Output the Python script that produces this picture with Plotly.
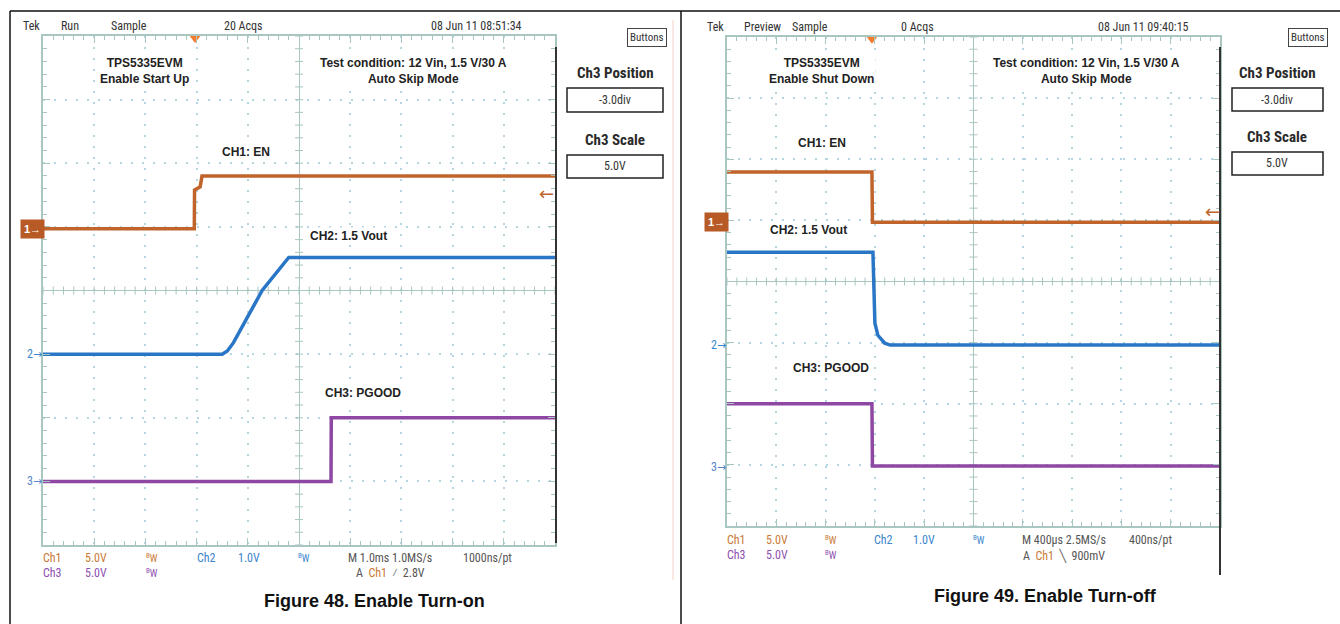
import numpy as np
import plotly.graph_objects as go

# ---------------- data ----------------
# Figure 48: Enable turn-on, time in ms (1.0 ms/div, trigger-centred screen)
on_time_ch1 = [-5.0, -2.045, -2.04, -1.93, -1.895, 5.0]
on_en_v = [0.0, 0.0, 3.05, 3.3, 4.15, 4.15]
on_time_ch2 = [-5.0, -1.50, -1.40, -1.28, -0.72, -0.26, -0.20, 5.0]
on_vout_v = [0.0, 0.0, 0.05, 0.18, 1.0, 1.47, 1.52, 1.52]
on_time_ch3 = [-5.0, 0.625, 0.63, 5.0]
on_pgood_v = [0.0, 0.0, 5.0, 5.0]

# Figure 49: Enable turn-off, time in us (400 us/div)
off_time_ch1 = [-2000, -824, -820, 2000]
off_en_v = [4.1, 4.1, 0.0, 0.0]
off_time_ch2 = [-2000, -816, -800, -776, -720, -676, 2000]
off_vout_v = [1.52, 1.52, 0.36, 0.16, 0.03, 0.0, 0.0]
off_time_ch3 = [-2000, -824, -820, 2000]
off_pgood_v = [5.1, 5.1, 0.0, 0.0]

# ---------------- style ----------------
W, H = 1340, 624
def px(x): return x / W
def py(y): return 1 - y / H

C1, C2, C3 = "#c0642c", "#2a76c6", "#8e48a4"
GRID = "#b4d6e2"
BORDER = "#a9c6c0"
NARROW = "Liberation Sans Narrow, Arial Narrow, Roboto Condensed, DejaVu Sans Condensed, sans-serif"
BOLD = "Liberation Sans, Arial, sans-serif"

panels = [
    dict(xa="x", ya="y", xk="xaxis", yk="yaxis", x0=43, x1=555, y0=36, y1=545,
         tdiv=1.0, pos=(0.97, -1.0, -3.0), trig=-2.03,
         series=[(on_time_ch1, on_en_v, C1), (on_time_ch2, on_vout_v, C2), (on_time_ch3, on_pgood_v, C3)]),
    dict(xa="x2", ya="y2", xk="xaxis2", yk="yaxis2", x0=727, x1=1220, y0=37, y1=526,
         tdiv=400.0, pos=(0.97, -1.04, -3.02), trig=-2.06,
         series=[(off_time_ch1, off_en_v, C1), (off_time_ch2, off_vout_v, C2), (off_time_ch3, off_pgood_v, C3)]),
]
vdiv = (5.0, 1.0, 5.0)

fig = go.Figure()
layout_axes = {}
for p in panels:
    pxd = (p["x1"] - p["x0"]) / 10.0
    pyd = (p["y1"] - p["y0"]) / 8.0
    common = dict(showticklabels=False, showgrid=True, gridcolor=GRID, griddash="2px,9px",
                  gridwidth=1.5, dtick=1, tick0=0, zeroline=True, zerolinecolor=BORDER,
                  zerolinewidth=1.2, showline=True, linecolor=BORDER, linewidth=1.5,
                  mirror="ticks", ticks="inside", ticklen=7, tickcolor=BORDER, tickwidth=1.2,
                  minor=dict(ticks="inside", dtick=0.2, ticklen=4, tickcolor=BORDER, tickwidth=1, showgrid=False),
                  fixedrange=True)
    layout_axes[p["xk"]] = dict(common, domain=[px(p["x0"]), px(p["x1"])], range=[-5, 5],
                                anchor=p["ya"])
    layout_axes[p["yk"]] = dict(common, domain=[py(p["y1"]), py(p["y0"])], range=[-4, 4],
                                anchor=p["xa"])
    # centre crosshair minor ticks
    hx, hy = 4.0 / pxd, 4.0 / pyd
    tx, ty = [], []
    for yv in np.arange(-4, 4.001, 0.2):
        tx += [-hx, hx, None]; ty += [yv, yv, None]
    for xv in np.arange(-5, 5.001, 0.2):
        tx += [xv, xv, None]; ty += [-hy, hy, None]
    fig.add_trace(go.Scatter(x=tx, y=ty, mode="lines", line=dict(color=BORDER, width=1),
                             hoverinfo="skip", showlegend=False, xaxis=p["xa"], yaxis=p["ya"]))
    # waveforms: convert physical units to screen divisions
    for (t, v, col), pos, vd in zip(p["series"], p["pos"], vdiv):
        fig.add_trace(go.Scatter(x=[ti / p["tdiv"] for ti in t], y=[vi / vd + pos for vi in v],
                                 mode="lines", line=dict(color=col, width=3.5),
                                 hoverinfo="skip", showlegend=False, xaxis=p["xa"], yaxis=p["ya"]))
    # trigger position marker
    fig.add_trace(go.Scatter(x=[p["trig"]], y=[3.97], mode="markers", cliponaxis=False,
                             marker=dict(symbol="triangle-down", size=10, color="#f47c2c"),
                             hoverinfo="skip", showlegend=False, xaxis=p["xa"], yaxis=p["ya"]))

annotations = []
def ann(text, x, y, size=12, color="#222", family=BOLD, bold=False, bg=None, **kw):
    if bold:
        text = "<b>" + text + "</b>"
    d = dict(text=text, x=px(x), y=py(y), xref="paper", yref="paper", showarrow=False,
             font=dict(size=size, color=color, family=family), xanchor="center", yanchor="middle")
    if bg:
        d["bgcolor"] = bg
    d.update(kw)
    annotations.append(d)

# headers
for t, x in [("Tek", 31), ("Run", 70), ("Sample", 129), ("20 Acqs", 243), ("08 Jun 11 08:51:34", 476)]:
    ann(t, x, 26, 12, "#333", NARROW)
for t, x in [("Tek", 715), ("Preview", 762), ("Sample", 810), ("0 Acqs", 917), ("08 Jun 11 09:40:15", 1143)]:
    ann(t, x, 27, 12, "#333", NARROW)

# in-screen labels
ann("TPS5335EVM<br>Enable Start Up", 144, 71, 12, "#222", BOLD, True, "white")
ann("Test condition: 12 Vin, 1.5 V/30 A<br>Auto Skip Mode", 413, 71, 12, "#222", BOLD, True, "white")
ann("CH1: EN", 246, 152, 12, "#222", BOLD, True, "white")
ann("CH2: 1.5 Vout", 348, 236, 12, "#222", BOLD, True, "white")
ann("CH3: PGOOD", 363, 393, 12, "#222", BOLD, True, "white")
ann("TPS5335EVM<br>Enable Shut Down", 822, 71, 12, "#222", BOLD, True, "white")
ann("Test condition: 12 Vin, 1.5 V/30 A<br>Auto Skip Mode", 1086, 71, 12, "#222", BOLD, True, "white")
ann("CH1: EN", 822, 143, 12, "#222", BOLD, True, "white")
ann("CH2: 1.5 Vout", 808, 230, 12, "#222", BOLD, True, "white")
ann("CH3: PGOOD", 831, 368, 12, "#222", BOLD, True, "white")

# channel markers
for xc, y1, y2, y3 in [(32, 229, 354, 481), (716, 222, 345, 467)]:
    ann("1→", xc, y1, 11, "white", BOLD, True, "#b85a25", borderpad=3)
    ann("2→", xc + 2, y2, 12, "#3a86cc", NARROW)
    ann("3→", xc + 2, y3, 12, "#5a86cc", NARROW)
ann("←", 546, 193, 18, "#c0642c", "DejaVu Sans, sans-serif")
ann("←", 1212, 211, 18, "#c0642c", "DejaVu Sans, sans-serif")

# side menus
for cx, bx in [(615, 647), (1277, 1308)]:
    ann("Buttons", bx, 37, 11, "#333", NARROW, bordercolor="#444", borderwidth=1, borderpad=2)
ann("Ch3 Position", 615, 73, 15, "#2a2a2a", NARROW, True)
ann("-3.0div", 615, 100, 12, "#333", NARROW)
ann("Ch3 Scale", 615, 140, 15, "#2a2a2a", NARROW, True)
ann("5.0V", 615, 166, 12, "#333", NARROW)
ann("Ch3 Position", 1277, 73, 15, "#2a2a2a", NARROW, True)
ann("-3.0div", 1277, 100, 12, "#333", NARROW)
ann("Ch3 Scale", 1277, 137, 15, "#2a2a2a", NARROW, True)
ann("5.0V", 1277, 163, 12, "#333", NARROW)

# bottom readouts
def readouts(xs, r1, r2, mtext, ptext, atext, mx, px_):
    ann("Ch1", xs[0], r1, 12, "#c97a36", NARROW)
    ann("5.0V", xs[1], r1, 12, "#c97a36", NARROW)
    ann("<sup>B</sup>W", xs[2], r1, 10, "#c97a36", NARROW)
    ann("Ch2", xs[3], r1, 12, "#3a86cc", NARROW)
    ann("1.0V", xs[4], r1, 12, "#3a86cc", NARROW)
    ann("<sup>B</sup>W", xs[5], r1, 10, "#3a86cc", NARROW)
    ann("Ch3", xs[0], r2, 12, "#8e50b0", NARROW)
    ann("5.0V", xs[1], r2, 12, "#8e50b0", NARROW)
    ann("<sup>B</sup>W", xs[2], r2, 10, "#8e50b0", NARROW)
    ann(mtext, mx, r1, 12, "#555", NARROW)
    ann(ptext, px_, r1, 12, "#555", NARROW)
    ann(atext, mx, r2, 12, "#555", NARROW)

readouts([52, 96, 152, 206, 249, 304], 558, 573, "M 1.0ms 1.0MS/s", "1000ns/pt",
         "A  <span style='color:#c97a36'>Ch1</span>  ⁄  2.8V", 390, 487)
readouts([736, 777, 831, 883, 924, 979], 540, 555, "M 400µs 2.5MS/s", "400ns/pt",
         "A  <span style='color:#c97a36'>Ch1</span>  ╲  900mV", 1064, 1150)

# captions
ann("Figure 48. Enable Turn-on", 374, 601, 18, "#111", BOLD, True)
ann("Figure 49. Enable Turn-off", 1045, 596, 18, "#111", BOLD, True)

shapes = []
def line(x0, y0, x1, y1, color="#111", width=1.5):
    shapes.append(dict(type="line", xref="paper", yref="paper", x0=px(x0), y0=py(y0),
                       x1=px(x1), y1=py(y1), line=dict(color=color, width=width)))
def rect(x0, y0, x1, y1):
    shapes.append(dict(type="rect", xref="paper", yref="paper", x0=px(x0), y0=py(y0),
                       x1=px(x1), y1=py(y1), line=dict(color="#222", width=1.5)))

line(10, 11, 1340, 11)
line(10, 11, 10, 624)
line(681, 11, 681, 624)
line(556, 47, 556, 543, "#333", 2)
line(1220, 47, 1220, 575, "#333", 2)
line(673, 20, 673, 580, "#f3d0c8", 1)
rect(567, 88, 663, 112)
rect(567, 155, 663, 178)
rect(1232, 88, 1323, 111)
rect(1232, 152, 1323, 175)

fig.update_layout(width=W, height=H, margin=dict(l=0, r=0, t=0, b=0),
                  paper_bgcolor="white", plot_bgcolor="white", showlegend=False,
                  annotations=annotations, shapes=shapes, **layout_axes)
fig.write_html("out.html", config={"displayModeBar": False},
               post_script="document.body.style.margin='0';document.body.style.overflow='hidden';")
